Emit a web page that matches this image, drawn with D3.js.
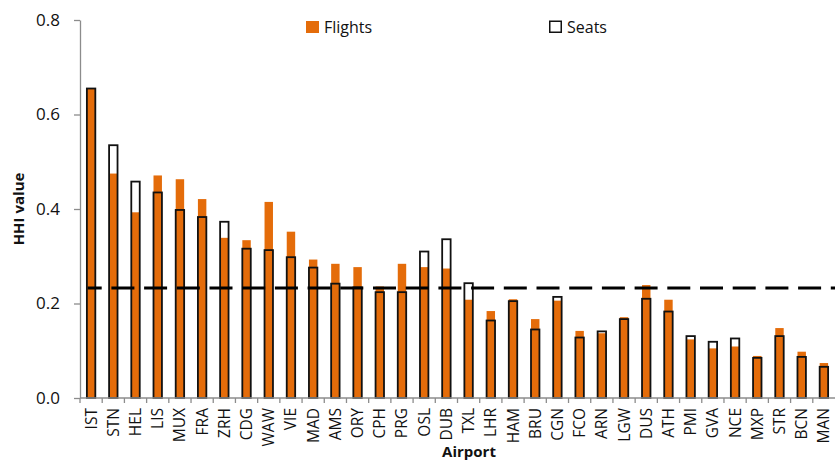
<!DOCTYPE html>
<html>
<head>
<meta charset="utf-8">
<script src="https://cdn.jsdelivr.net/npm/d3@7"></script>
<style>
  html, body { margin: 0; padding: 0; background: #fff; }
  svg { display: block; font-family: "Open Sans", "Noto Sans", sans-serif; }
</style>
</head>
<body>
<svg id="chart" width="835" height="462"></svg>
<script>
// Airports, in the order shown along the x axis
const airports = ["IST","STN","HEL","LIS","MUX","FRA","ZRH","CDG","WAW","VIE",
  "MAD","AMS","ORY","CPH","PRG","OSL","DUB","TXL","LHR","HAM",
  "BRU","CGN","FCO","ARN","LGW","DUS","ATH","PMI","GVA","NCE",
  "MXP","STR","BCN","MAN"];

// HHI computed on flights
const flights = [0.655,0.475,0.393,0.471,0.463,0.421,0.339,0.334,0.415,0.352,
  0.293,0.284,0.277,0.236,0.284,0.277,0.274,0.208,0.184,0.209,
  0.167,0.206,0.142,0.137,0.171,0.239,0.208,0.124,0.105,0.109,
  0.089,0.148,0.098,0.074];

// HHI computed on seats
const seats = [0.655,0.535,0.458,0.435,0.398,0.383,0.373,0.316,0.313,0.298,
  0.276,0.242,0.234,0.224,0.224,0.310,0.336,0.243,0.164,0.205,
  0.145,0.214,0.128,0.141,0.167,0.210,0.183,0.131,0.119,0.126,
  0.085,0.131,0.087,0.066];

// Reference threshold drawn as a dashed line
const threshold = 0.233;

const yTicks = [0, 0.2, 0.4, 0.6, 0.8];
const seriesNames = ["Flights", "Seats"];

const ORANGE = "#E46C0A";
const AXIS_GREY = "#8c8c8c";

const svg = d3.select("#chart");

const x = d3.scaleBand().domain(airports).range([80, 835]);
const y = d3.scaleLinear().domain([0, 0.8]).range([398, 20]);
const barW = x.step() * 0.38;
const cx = d => x(d) + x.bandwidth() / 2;

// Flights bars (filled)
svg.append("g").selectAll("rect")
  .data(airports)
  .join("rect")
  .attr("x", (d) => cx(d) - barW / 2)
  .attr("width", barW)
  .attr("y", (d, i) => y(flights[i]))
  .attr("height", (d, i) => y(0) - y(flights[i]))
  .attr("fill", ORANGE);

// Seats bars (outline only)
svg.append("g").selectAll("rect")
  .data(airports)
  .join("rect")
  .attr("x", (d) => cx(d) - barW / 2)
  .attr("width", barW)
  .attr("y", (d, i) => y(seats[i]))
  .attr("height", (d, i) => y(0) - y(seats[i]))
  .attr("fill", "none")
  .attr("stroke", "#111")
  .attr("stroke-width", 1.8);

// Y axis
const yAxis = svg.append("g")
  .attr("transform", "translate(80,0)")
  .call(d3.axisLeft(y).tickValues(yTicks).tickFormat(d3.format(".1f")).tickSize(6).tickSizeOuter(0));
yAxis.select(".domain").attr("stroke", AXIS_GREY).attr("stroke-width", 1.3);
yAxis.selectAll(".tick line").attr("stroke", AXIS_GREY).attr("stroke-width", 1.3);
yAxis.selectAll(".tick text")
  .attr("x", -20)
  .attr("fill", "#111")
  .style("font-size", "17px")
  .style("font-family", "'Open Sans', sans-serif");

// X axis with ticks at category boundaries
const xAxis = svg.append("g").attr("transform", `translate(0,${y(0)})`);
xAxis.append("line")
  .attr("x1", 80).attr("x2", 835)
  .attr("stroke", AXIS_GREY).attr("stroke-width", 1.3);
xAxis.selectAll("line.tk")
  .data(airports)
  .join("line")
  .attr("class", "tk")
  .attr("x1", d => x(d)).attr("x2", d => x(d))
  .attr("y1", 0).attr("y2", 5)
  .attr("stroke", AXIS_GREY).attr("stroke-width", 1.3);
xAxis.selectAll("text")
  .data(airports)
  .join("text")
  .attr("transform", d => `translate(${cx(d) + 5.5},10) rotate(-90)`)
  .attr("text-anchor", "end")
  .attr("fill", "#111")
  .style("font-size", "15.5px")
  .text(d => d);

// Dashed threshold line
svg.append("line")
  .attr("x1", 87.7).attr("x2", 835)
  .attr("y1", y(threshold)).attr("y2", y(threshold))
  .attr("stroke", "#000")
  .attr("stroke-width", 3)
  .attr("stroke-dasharray", "23,9.7")
  .attr("stroke-dashoffset", 9);

// Axis titles
svg.append("text")
  .attr("transform", "translate(24,209) rotate(-90)")
  .attr("text-anchor", "middle")
  .style("font-size", "15px")
  .style("font-weight", "bold")
  .attr("fill", "#111")
  .text("HHI value");

svg.append("text")
  .attr("x", 469).attr("y", 457)
  .attr("text-anchor", "middle")
  .style("font-size", "15px")
  .style("font-weight", "bold")
  .attr("fill", "#111")
  .text("Airport");

// Legend
const legend = svg.append("g");
const legendPos = [306, 549];
seriesNames.forEach((name, i) => {
  const g = legend.append("g").attr("transform", `translate(${legendPos[i]},21)`);
  if (i === 0) {
    g.append("rect").attr("width", 13).attr("height", 12).attr("fill", ORANGE);
  } else {
    g.append("rect").attr("x", 0.75).attr("y", 0.25).attr("width", 11.5).attr("height", 11)
      .attr("fill", "none").attr("stroke", "#111").attr("stroke-width", 1.5);
  }
  g.append("text")
    .attr("x", 18).attr("y", 11.5)
    .attr("fill", "#111")
    .style("font-size", "16px")
    .text(name);
});
</script>
</body>
</html>
